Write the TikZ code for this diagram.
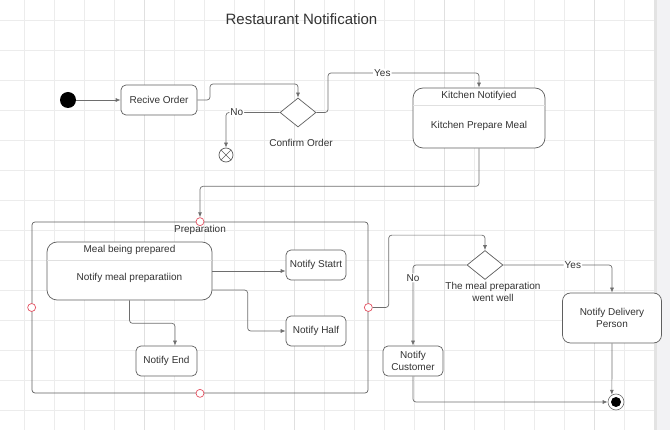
\documentclass[tikz,border=0pt]{standalone}
\usepackage{fontspec}
\setmainfont{Liberation Sans}
\usetikzlibrary{shapes.geometric,arrows.meta,positioning,calc}
\definecolor{gridln}{RGB}{236,236,236}
\definecolor{gridmj}{RGB}{224,224,224}
\definecolor{inkgray}{RGB}{51,51,51}
\definecolor{boxgray}{RGB}{95,95,95}
\definecolor{linegray}{RGB}{110,110,110}
\definecolor{portred}{RGB}{228,84,100}
\definecolor{sidegray}{RGB}{242,242,244}

\begin{document}
\begin{tikzpicture}[x=1pt,y=-1pt,
  font=\fontsize{10}{12}\selectfont, text=inkgray,
  st/.style={rectangle,rounded corners=5pt,draw=boxgray,line width=0.7pt,fill=white,align=center,inner sep=2pt},
  dec/.style={diamond,draw=boxgray,line width=0.7pt,fill=white,minimum width=36pt,minimum height=29pt,inner sep=0pt},
  port/.style={circle,draw=portred,line width=0.7pt,fill=white,minimum size=8pt,inner sep=0pt},
  sep/.style={draw=gridmj,line width=0.7pt},
  lbl/.style={fill=white,inner sep=1pt},
  arr/.style={-{Latex[length=5pt,width=4pt]},draw=linegray,line width=0.7pt,rounded corners=3pt}
]
\useasboundingbox (0,0) rectangle (670,430);
\foreach \gx in {24,54,...,654} \draw[gridln,line width=0.7pt] (\gx,0) -- (\gx,430);
\foreach \gy in {20,50,...,410} \draw[gridln,line width=0.7pt] (0,\gy) -- (654,\gy);
\foreach \gx in {144,294,444,594} \draw[gridmj,line width=0.7pt] (\gx,0) -- (\gx,430);
\fill[sidegray] (654,0) rectangle (670,430);
\fill[gray!22] (654,0) rectangle (656.5,430);

\node[font=\fontsize{15}{18}\selectfont] (title) at (301.5,19) {Restaurant Notification};

\node[circle,fill=black,minimum size=16pt,inner sep=0pt] (init) at (68,100) {};
\node[st,minimum width=76pt,minimum height=30pt] (recv) at (159,100) {Recive Order};
\node[dec] (cdec) at (298,112.5) {};
\node (cdecl) at (301,143) {Confirm Order};
\node[circle,draw=boxgray,line width=0.7pt,minimum size=14pt,inner sep=0pt] (cancel) at (226,155) {};
\draw[boxgray,line width=0.7pt] (cancel.north east) -- (cancel.south west) (cancel.north west) -- (cancel.south east);

\node[st,rounded corners=10pt,minimum width=132pt,minimum height=60pt] (kit) at (479,118) {};
\draw[sep] (kit.west |- 0,105) -- (kit.east |- 0,105);
\node (kith) at (479,96) {Kitchen Notifyied};
\node (kitb) at (479,126) {Kitchen Prepare Meal};

\draw[arr] (init) -- (recv);
\draw[arr] (recv.east) -| (210,84) -| (cdec.north);
\draw[arr] (cdec.west) -| (cancel.north) node[lbl,pos=0.4] {No};
\draw[arr] (cdec.east) -| (328,73) -| (kit.north) node[lbl,pos=0.18] {Yes};

\node[draw=boxgray,line width=0.7pt,rounded corners=3pt,minimum width=336pt,minimum height=171pt] (prep) at (200,307.5) {};
\node (prepl) at (200,230) {Preparation};
\node[st,rounded corners=10pt,minimum width=165pt,minimum height=58pt] (meal) at (129.5,271) {};
\draw[sep] (meal.west |- 0,260) -- (meal.east |- 0,260);
\node (mealh) at (129.5,250) {Meal being prepared};
\node (mealb) at (129.5,278) {Notify meal preparatiion};
\node[st,minimum width=60pt,minimum height=30pt] (nstart) at (316,265) {Notify Statrt};
\node[st,minimum width=60pt,minimum height=30pt] (nhalf) at (316,331) {Notify Half};
\node[st,minimum width=61pt,minimum height=30pt] (nend) at (166.5,361) {Notify End};

\draw[arr] (meal.east) -- (meal.east -| nstart.west);
\draw[arr] ([yshift=-19pt]meal.east) -| ([xshift=-38pt]nhalf.west) -- (nhalf.west);
\draw[arr] (meal.south) -- ++(0,23) -| ([xshift=8.5pt]nend.north);

\node[port] (ptop) at (prep.north) {};
\node[port] (pleft) at (prep.west) {};
\node[port] (pbot) at (prep.south) {};
\node[port] (pright) at (prep.east) {};
\draw[arr] (kit.south) -- ++(0,38) -| (ptop.north);

\node[dec] (mdec) at (485,265) {};
\node[align=center] (mdecl) at (493,292) {The meal preparation\\went well};
\node[st,minimum width=60pt,minimum height=30pt] (ncust) at (413,361) {Notify\\Customer};
\node[st,rounded corners=8pt,minimum width=99pt,minimum height=50pt] (ndel) at (612,318) {Notify Delivery\\Person};
\node[circle,draw=linegray,line width=0.6pt,fill=white,minimum size=16pt,inner sep=0pt] (final) at (616,402) {};
\node[circle,fill=black,minimum size=10pt,inner sep=0pt] (finalc) at (final) {};

\draw[arr] (pright.east) -- ++(16,0) |- ([yshift=15pt]mdec.north) -- (mdec.north);
\draw[arr] (mdec.west) -| (ncust.north) node[lbl,pos=0.58] {No};
\draw[arr] (mdec.east) -| (ndel.north) node[lbl,pos=0.32] {Yes};
\draw[arr] (ndel.south) -- (final.120);
\draw[arr] (ncust.south) |- (final.west);
\end{tikzpicture}
\end{document}
